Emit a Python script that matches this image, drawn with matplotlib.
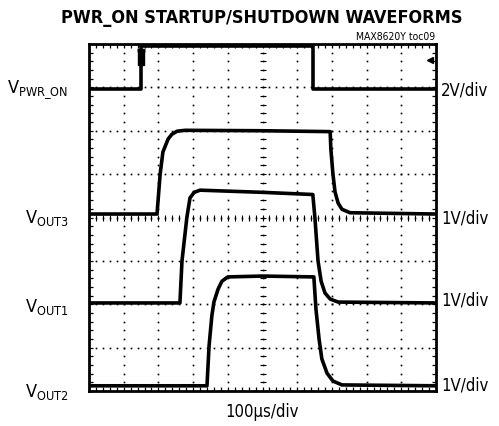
import numpy as np
import matplotlib
matplotlib.use('Agg')
import matplotlib.pyplot as plt
from matplotlib.patches import Rectangle

plt.rcParams['font.family'] = ['DejaVu Sans Condensed', 'Liberation Sans Narrow', 'DejaVu Sans']
plt.rcParams['font.stretch'] = 'condensed'

# time in us (100us/div), level in screen divisions (8 div tall)
t_pwr = [0, 150, 150, 645, 645, 1000]
v_pwr = [6.96, 6.96, 7.95, 7.95, 6.96, 6.96]

t_out3 = [0, 196, 205, 213, 228, 239, 254, 277, 500, 695, 697, 703, 709, 718, 729, 752, 1000]
v_out3 = [4.08, 4.08, 5.0, 5.51, 5.81, 5.92, 5.99, 6.01, 6.0, 5.98, 5.58, 5.0, 4.59, 4.33, 4.19, 4.11, 4.08]

t_out1 = [0, 262, 268, 282, 291, 303, 320, 500, 645, 651, 660, 669, 680, 695, 718, 1000]
v_out1 = [2.03, 2.03, 3.0, 4.0, 4.45, 4.58, 4.63, 4.58, 4.53, 4.0, 3.0, 2.53, 2.26, 2.12, 2.05, 2.03]

t_out2 = [0, 340, 346, 354, 360, 372, 383, 400, 500, 648, 654, 663, 671, 686, 703, 729, 1000]
v_out2 = [0.12, 0.12, 1.04, 1.73, 2.05, 2.35, 2.53, 2.63, 2.65, 2.63, 1.89, 1.2, 0.74, 0.41, 0.23, 0.14, 0.12]

left_labels = [('V', 'PWR_ON', 6.96), ('V', 'OUT3', 4.0), ('V', 'OUT1', 1.95), ('V', 'OUT2', 0.0)]
right_labels = [('2V/div', 6.96), ('1V/div', 4.0), ('1V/div', 2.1), ('1V/div', 0.15)]

fig = plt.figure(figsize=(4.99, 4.27), dpi=100)
ax = fig.add_axes([89/499, 35/427, 347/499, 347/427])
ax.set_xlim(0, 1000)
ax.set_ylim(0, 8)

# dotted graticule
ys = np.arange(0, 8.01, 0.2)
xs = np.arange(0, 1001, 20)
for gx in range(100, 1000, 100):
    ax.plot([gx]*len(ys), ys, ls='none', marker='s', ms=1.2, color='black', mew=0)
for gy in range(1, 8):
    ax.plot(xs, [gy]*len(xs), ls='none', marker='s', ms=1.2, color='black', mew=0)
# center crosshair ticks
ax.plot(xs, [4]*len(xs), ls='none', marker='|', ms=4, color='black', mew=0.8)
ax.plot([500]*len(ys), ys, ls='none', marker='_', ms=4, color='black', mew=0.8)

for t, v in [(t_pwr, v_pwr), (t_out3, v_out3), (t_out1, v_out1), (t_out2, v_out2)]:
    ax.plot(t, v, color='black', lw=2.6, solid_joinstyle='round')

# trigger marker and level arrow
ax.add_patch(Rectangle((142, 7.52), 16, 0.32, color='black'))
ax.plot([150], [7.86], marker='_', ms=6, mew=2.5, color='black')
ax.plot([983], [7.63], marker='<', ms=5, color='black')

ax.set_xticks(xs)
ax.set_yticks(ys)
ax.set_xticklabels([])
ax.set_yticklabels([])
ax.tick_params(direction='in', length=3, width=0.9, top=True, right=True)
for s in ax.spines.values():
    s.set_linewidth(2)

fig.text(262/499, 1 - 18/427, 'PWR_ON STARTUP/SHUTDOWN WAVEFORMS', ha='center', va='center',
         fontsize=13, fontweight='bold')
fig.text(435/499, 1 - 37/427, 'MAX8620Y toc09', ha='right', va='center', fontsize=7.5)
fig.text(262/499, 1 - 412/427, '100\u00b5s/div', ha='center', va='center', fontsize=12)

for v, sub, lvl in left_labels:
    ax.text(-0.06, lvl / 8, r'%s$_{\mathregular{%s}}$' % (v, sub.replace('_', r'\_')),
            transform=ax.transAxes, ha='right', va='center', fontsize=13)
for lab, lvl in right_labels:
    ax.text(1.015, lvl / 8, lab, transform=ax.transAxes, ha='left', va='center', fontsize=12)

fig.savefig('out.png', dpi=100)
